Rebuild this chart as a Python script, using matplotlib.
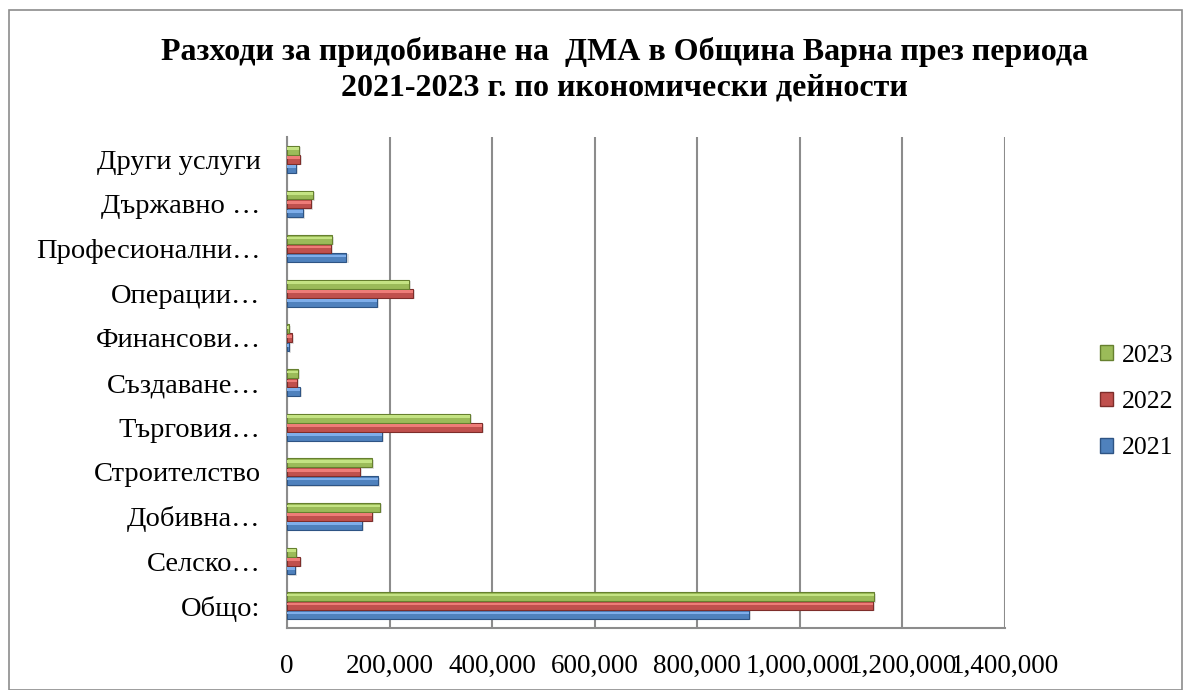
import matplotlib
matplotlib.use("Agg")
import matplotlib.pyplot as plt
from matplotlib.patches import Rectangle, Patch
from matplotlib.ticker import FuncFormatter
import numpy as np

plt.rcParams['font.family'] = ['Liberation Serif', 'DejaVu Serif']

# данни (стойности, отчетени от графиката)
categories = ["Общо:", "Селско…", "Добивна…", "Строителство", "Търговия…",
              "Създаване…", "Финансови…", "Операции…", "Професионални…",
              "Държавно …", "Други услуги"]
years = ["2021", "2022", "2023"]
v2021 = [900000, 16000, 147000, 178000, 185000, 26000, 3000, 176000, 116000, 32000, 18000]
v2022 = [1143000, 26000, 165000, 143000, 380000, 19000, 9000, 246000, 85000, 46000, 26000]
v2023 = [1145000, 18000, 181000, 165000, 357000, 22000, 4000, 238000, 87000, 50000, 24000]
x_ticks = [0, 200000, 400000, 600000, 800000, 1000000, 1200000, 1400000]

colors = {"2021": "#4F81BD", "2022": "#C0504D", "2023": "#9BBB59"}
light = {"2021": "#7FAEEA", "2022": "#EE7C78", "2023": "#C4E383"}
dark = {"2021": "#2E5484", "2022": "#7E2D2A", "2023": "#66802F"}

fig = plt.figure(figsize=(11.92, 6.9), dpi=100)
ax = fig.add_axes([287 / 1192, 62 / 690, (1005 - 287) / 1192, (628 - 137) / 690])

# рамка около цялата диаграма
fig.patches.append(Rectangle((9 / 1192, 0.0), 1173 / 1192, 680 / 690,
                             transform=fig.transFigure, fill=False,
                             edgecolor="#8C8C8C", linewidth=1.2))

y = np.arange(len(categories))
h = 0.2
series = [("2021", v2021, -h), ("2022", v2022, 0.0), ("2023", v2023, h)]
for name, vals, off in series:
    # лека сянка
    ax.barh(y + off - 0.03, vals, height=h, left=4000, color="#000000",
            alpha=0.12, linewidth=0, zorder=2)
    ax.barh(y + off, vals, height=h, color=colors[name],
            edgecolor=dark[name], linewidth=0.8, zorder=3)
    # светла ивица отгоре (ефект на релеф)
    ax.barh(y + off + h * 0.18, vals, height=h * 0.3, color=light[name],
            linewidth=0, zorder=4)

ax.set_xlim(0, 1400000)
ax.set_ylim(-0.5, len(categories) - 0.5)
ax.set_xticks(x_ticks)
ax.xaxis.set_major_formatter(FuncFormatter(lambda v, p: f"{int(v):,}"))
ax.set_yticks(y)
ax.set_yticklabels(categories)
ax.tick_params(axis="x", length=0, pad=19, labelsize=19.5)
ax.tick_params(axis="y", length=0, pad=19, labelsize=20.5)
ax.grid(axis="x", color="#8C8C8C", linewidth=1.5, zorder=0)
ax.set_axisbelow(True)
for s in ["top", "right"]:
    ax.spines[s].set_visible(False)
for s in ["left", "bottom"]:
    ax.spines[s].set_color("#8C8C8C")
    ax.spines[s].set_linewidth(1.5)

fig.text(0.524, 1 - 70 / 690, "Разходи за придобиване на  ДМА в Община Варна през периода\n"
         "2021-2023 г. по икономически дейности",
         ha="center", va="center", fontsize=23, fontweight="bold",
         linespacing=1.28)

handles = [Patch(facecolor=colors[n], edgecolor=dark[n], label=n) for n in reversed(years)]
fig.legend(handles=handles, loc="center left", bbox_to_anchor=(1077 / 1192, 1 - 402 / 690),
           frameon=False, fontsize=18.5, labelspacing=0.95, handlelength=0.5,
           handleheight=0.5, handletextpad=0.35)

fig.savefig("out.png", dpi=100)
